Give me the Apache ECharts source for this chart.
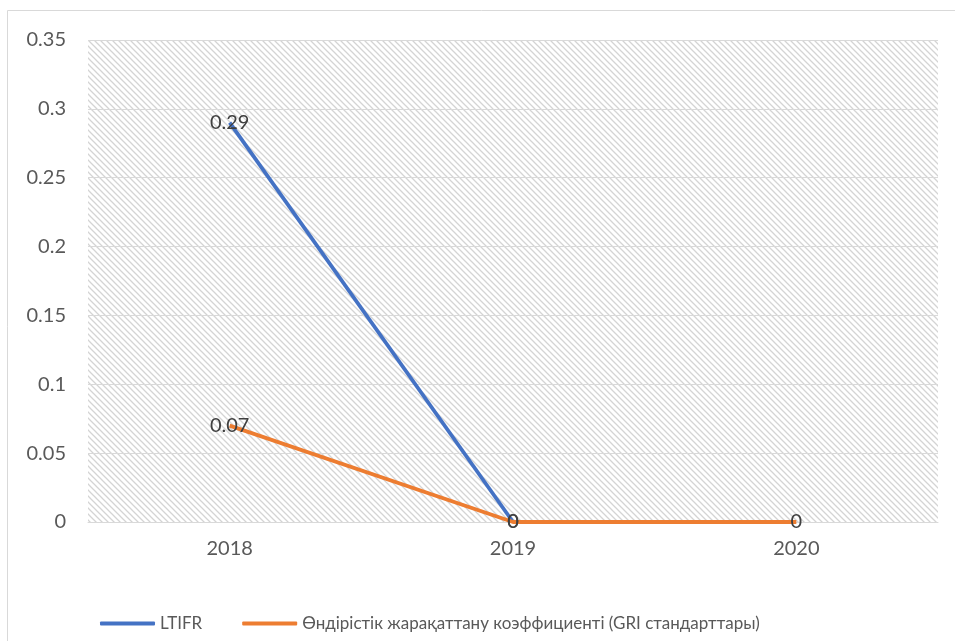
<!DOCTYPE html>
<html>
<head>
<meta charset="utf-8">
<script src="https://cdn.jsdelivr.net/npm/echarts@6/dist/echarts.min.js"></script>
<style>html,body{margin:0;padding:0;background:#fff}#c{width:955px;height:641px}</style>
</head>
<body>
<div id="c"></div>
<script>
const categories = ['2018', '2019', '2020'];
const ltifr = [0.29, 0, null];
const injuryRate = [0.07, 0, 0];
const yTicks = { min: 0, max: 0.35, interval: 0.05 };
const seriesNames = ['LTIFR', 'Өндірістік жарақаттану коэффициенті (GRI стандарттары)'];
const colors = ['#4472C4', '#ED7D31'];

const pc = document.createElement('canvas');
pc.width = 6; pc.height = 6;
const g = pc.getContext('2d');
g.strokeStyle = '#d4d4d4';
g.lineWidth = 1.3;
g.beginPath();
g.moveTo(-1, -1); g.lineTo(7, 7);
g.moveTo(-7, -1); g.lineTo(1, 7);
g.moveTo(5, -1); g.lineTo(13, 7);
g.stroke();

const FONT = 'Lato';
const FS = 20;
const chart = echarts.init(document.getElementById('c'));
function lineSeries(name, data, color) {
  return {
    name: name, type: 'line', data: data,
    showSymbol: true, symbol: 'circle', symbolSize: 1,
    lineStyle: { color: color, width: 3.8 }, itemStyle: { color: color, opacity: 0 },
    label: { show: true, position: 'inside', fontSize: FS, color: '#404040', opacity: 1 },
    emphasis: { disabled: true }
  };
}
chart.setOption({
  animation: false,
  textStyle: { fontFamily: FONT },
  graphic: [{
    type: 'rect', shape: { x: 7.5, y: 10.5, width: 1000, height: 700 },
    style: { fill: 'none', stroke: '#d9d9d9', lineWidth: 1 }, silent: true, z: -10
  }],
  grid: {
    left: 88, right: 17, top: 40, bottom: 119,
    show: true, borderWidth: 0,
    backgroundColor: { image: pc, repeat: 'repeat' }
  },
  legend: {
    bottom: 4, left: 95,
    icon: 'roundRect', itemWidth: 55, itemHeight: 4, itemGap: 40,
    textStyle: { fontSize: 17, color: '#595959', fontFamily: FONT },
    data: seriesNames.map((n, i) => ({ name: n, itemStyle: { color: colors[i], opacity: 1 } }))
  },
  xAxis: {
    type: 'category', data: categories, boundaryGap: true,
    axisLine: { lineStyle: { color: '#d9d9d9', width: 1 } },
    axisTick: { show: false },
    axisLabel: { fontSize: FS, color: '#595959', margin: 17 }
  },
  yAxis: {
    type: 'value', min: yTicks.min, max: yTicks.max, interval: yTicks.interval,
    axisLine: { show: false }, axisTick: { show: false },
    splitLine: { lineStyle: { color: '#d9d9d9', width: 1 } },
    axisLabel: { fontSize: FS, color: '#595959', margin: 22 }
  },
  series: [
    lineSeries(seriesNames[0], ltifr, colors[0]),
    lineSeries(seriesNames[1], injuryRate, colors[1])
  ]
});
</script>
</body>
</html>
